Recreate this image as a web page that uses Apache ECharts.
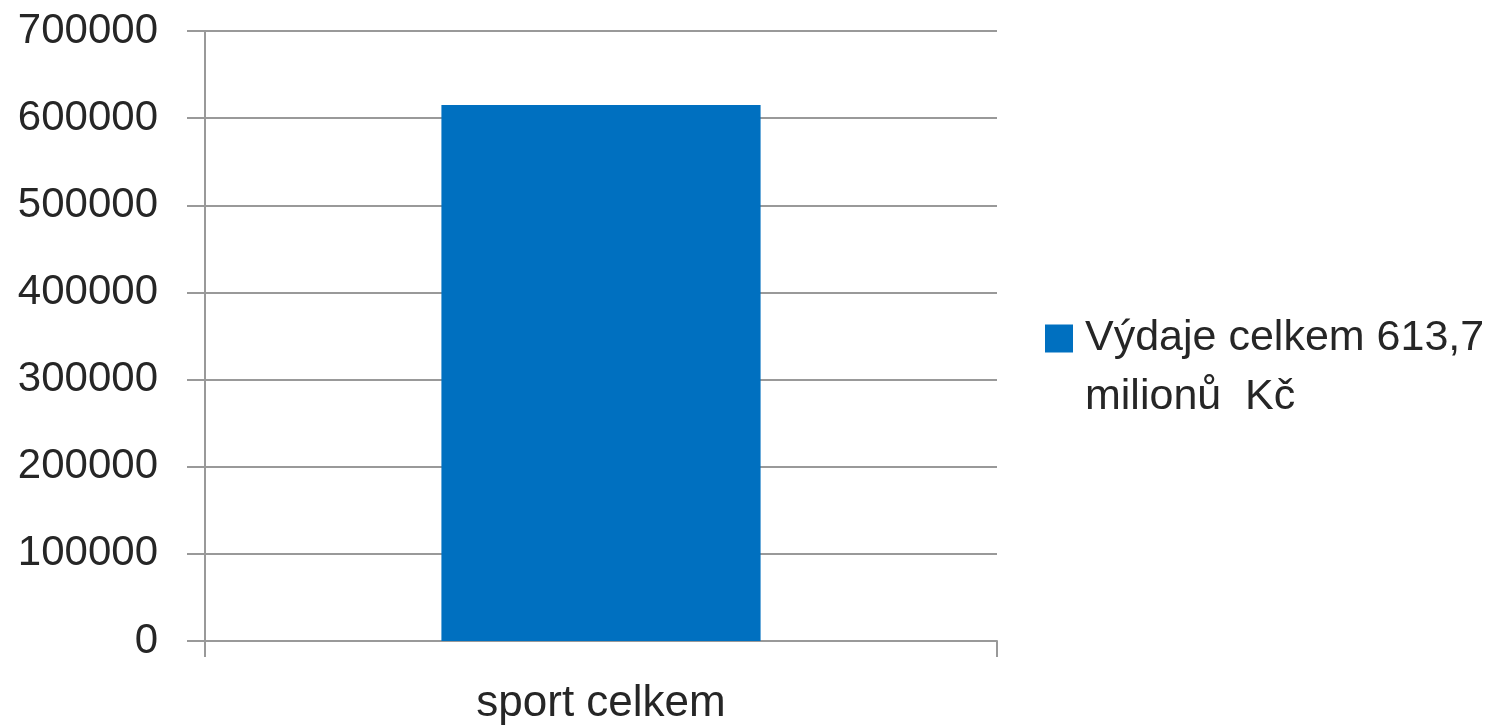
<!DOCTYPE html>
<html>
<head>
<meta charset="utf-8">
<script src="https://cdn.jsdelivr.net/npm/echarts@6/dist/echarts.min.js"></script>
<style>
  html, body { margin: 0; padding: 0; background: #fff; }
  #main { width: 1491px; height: 726px; }
</style>
</head>
<body>
<div id="main"></div>
<script>
// data
const categories = ['sport celkem'];
const seriesName = 'Výdaje celkem 613,7\nmilionů  Kč';
const values = [615000];
const yTicks = { min: 0, max: 700000, interval: 100000 };

const font = '"Liberation Sans", Arial, sans-serif';
const textColor = '#262626';
const lineColor = '#999999';

const myChart = echarts.init(document.getElementById('main'));
const option = {
  animation: false,
  color: ['#0070C0'],
  grid: { left: 205, right: 494, top: 31, bottom: 85 },
  legend: {
    orient: 'vertical',
    left: 1040,
    top: 245,
    itemWidth: 28,
    itemHeight: 28,
    icon: 'rect',
    // empty first line keeps the icon level with the first text line
    formatter: name => '\n' + name,
    textStyle: {
      fontFamily: font,
      fontSize: 43,
      color: textColor,
      lineHeight: 59,
      padding: [0, 0, 0, 7]
    },
    data: [seriesName]
  },
  xAxis: {
    type: 'category',
    data: categories,
    axisLine: { show: true, lineStyle: { color: lineColor, width: 2 } },
    axisTick: { show: true, length: 16, lineStyle: { color: lineColor, width: 2 } },
    axisLabel: { fontFamily: font, fontSize: 44, color: textColor, margin: 41 }
  },
  yAxis: {
    type: 'value',
    min: yTicks.min,
    max: yTicks.max,
    interval: yTicks.interval,
    axisLine: { show: true, lineStyle: { color: lineColor, width: 2 } },
    axisTick: { show: true, length: 18, lineStyle: { color: lineColor, width: 2 } },
    axisLabel: {
      fontFamily: font, fontSize: 42, color: textColor, margin: 47,
      formatter: v => String(v)
    },
    splitLine: { show: true, lineStyle: { color: lineColor, width: 2 } }
  },
  series: [
    {
      name: seriesName,
      type: 'bar',
      barWidth: '40.3%',
      data: values
    }
  ]
};
myChart.setOption(option);
</script>
</body>
</html>
